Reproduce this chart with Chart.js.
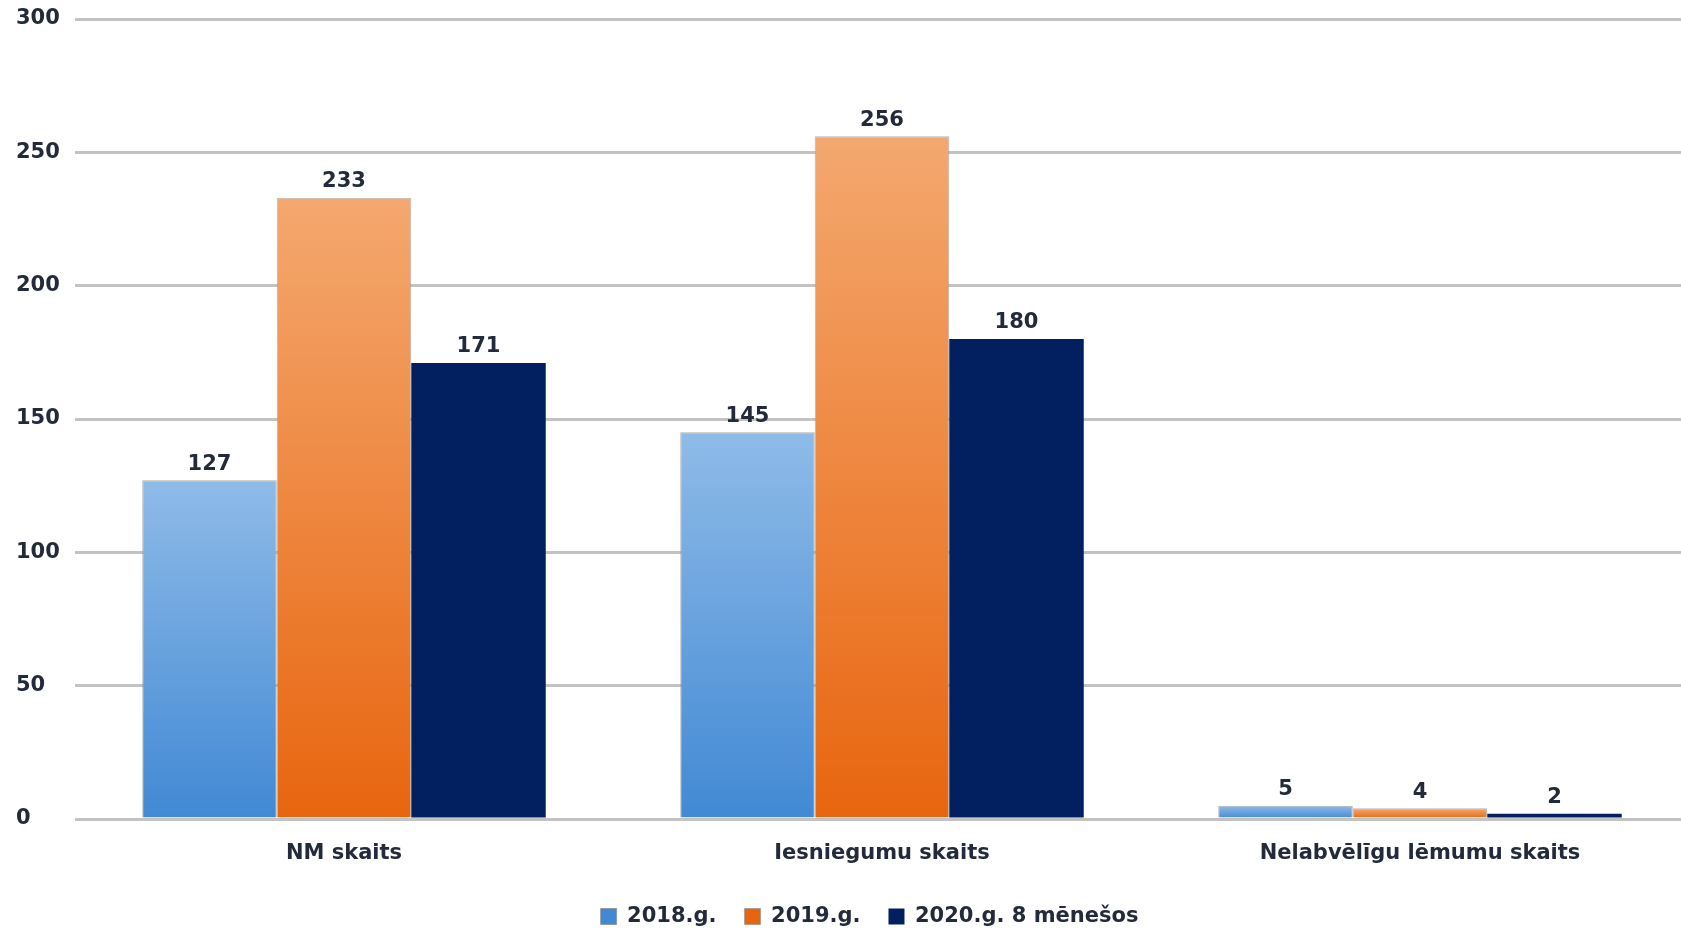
<!DOCTYPE html>
<html>
<head>
<meta charset="utf-8">
<title>NM skaits</title>
<script src="https://cdn.jsdelivr.net/npm/chart.js@4/dist/chart.umd.min.js"></script>
<style>
  html, body { margin: 0; padding: 0; background: #fff; overflow: hidden; }
  #wrap { width: 1689px; height: 929px; }
</style>
</head>
<body>
<div id="wrap"><canvas id="grafiks"></canvas></div>
<script>
// dati
const kategorijas = ['NM skaits', 'Iesniegumu skaits', 'Nelabvēlīgu lēmumu skaits'];
const gadi = ['2018.g.', '2019.g.', '2020.g. 8 mēnešos'];
const vertibas2018 = [127, 145, 5];
const vertibas2019 = [233, 256, 4];
const vertibas2020 = [171, 180, 2];
const asisTicks = [0, 50, 100, 150, 200, 250, 300];

const teksts = '#232a3c';
const fonts = { family: 'DejaVu Sans', size: 21, weight: 'bold' };

// vertikāls gradients katram stabiņam
function gradients(augsa, apaksa) {
    return function(c) {
        const chart = c.chart;
        if (!chart.chartArea || c.raw === undefined || !chart.scales.y) return apaksa;
        const y = chart.scales.y;
        const g = chart.ctx.createLinearGradient(0, y.getPixelForValue(c.raw), 0, y.getPixelForValue(0));
        g.addColorStop(0, augsa);
        g.addColorStop(1, apaksa);
        return g;
    };
}

// vērtības virs stabiņiem
const vertibuUzraksti = {
    id: 'vertibuUzraksti',
    afterDatasetsDraw(chart) {
        const ctx = chart.ctx;
        ctx.save();
        ctx.font = 'bold 21px "DejaVu Sans"';
        ctx.fillStyle = teksts;
        ctx.textAlign = 'center';
        ctx.textBaseline = 'middle';
        chart.data.datasets.forEach(function(ds, i) {
            chart.getDatasetMeta(i).data.forEach(function(el, j) {
                ctx.fillText(ds.data[j], el.x, el.y - 16);
            });
        });
        ctx.restore();
    }
};

// leģendu nedaudz pa labi
const legendasNobide = {
    id: 'legendasNobide',
    afterLayout(chart) {
        chart.legend.left += 17;
        chart.legend.right += 17;
    }
};

const ctx = document.getElementById('grafiks').getContext('2d');

new Chart(ctx, {
    type: 'bar',
    data: {
        labels: kategorijas,
        datasets: [{
            label: gadi[0],
            data: vertibas2018,
            backgroundColor: gradients('#8fbbe8', '#4189d4'),
            borderColor: 'rgba(140,140,140,0.7)',
            borderWidth: 1
        }, {
            label: gadi[1],
            data: vertibas2019,
            backgroundColor: gradients('#f4a86f', '#e8650f'),
            borderColor: 'rgba(150,150,150,0.7)',
            borderWidth: 1
        }, {
            label: gadi[2],
            data: vertibas2020,
            backgroundColor: '#02205f',
            borderWidth: 0
        }]
    },
    options: {
        responsive: true,
        maintainAspectRatio: false,
        animation: false,
        layout: { padding: { left: 16, top: 19, right: 0, bottom: -8 } },
        datasets: {
            bar: { barPercentage: 1, categoryPercentage: 0.75 }
        },
        scales: {
            x: {
                grid: { display: false },
                border: { display: false },
                ticks: { color: teksts, font: fonts, padding: 14 },
                afterFit: function(s) { s.height = 59; }
            },
            y: {
                min: 0,
                max: 300,
                grid: { color: '#c3c3c3', lineWidth: 3, drawTicks: false },
                border: { display: false },
                afterBuildTicks: function(s) { s.ticks = asisTicks.map(v => ({ value: v })); },
                ticks: { color: teksts, font: fonts, crossAlign: 'far', padding: 0 },
                afterFit: function(s) { s.width = 59; }
            }
        },
        plugins: {
            legend: {
                position: 'bottom',
                labels: {
                    color: teksts,
                    font: fonts,
                    boxWidth: 16,
                    boxHeight: 16,
                    padding: 28
                }
            },
            tooltip: { enabled: false }
        }
    },
    plugins: [vertibuUzraksti, legendasNobide]
});
</script>
</body>
</html>
